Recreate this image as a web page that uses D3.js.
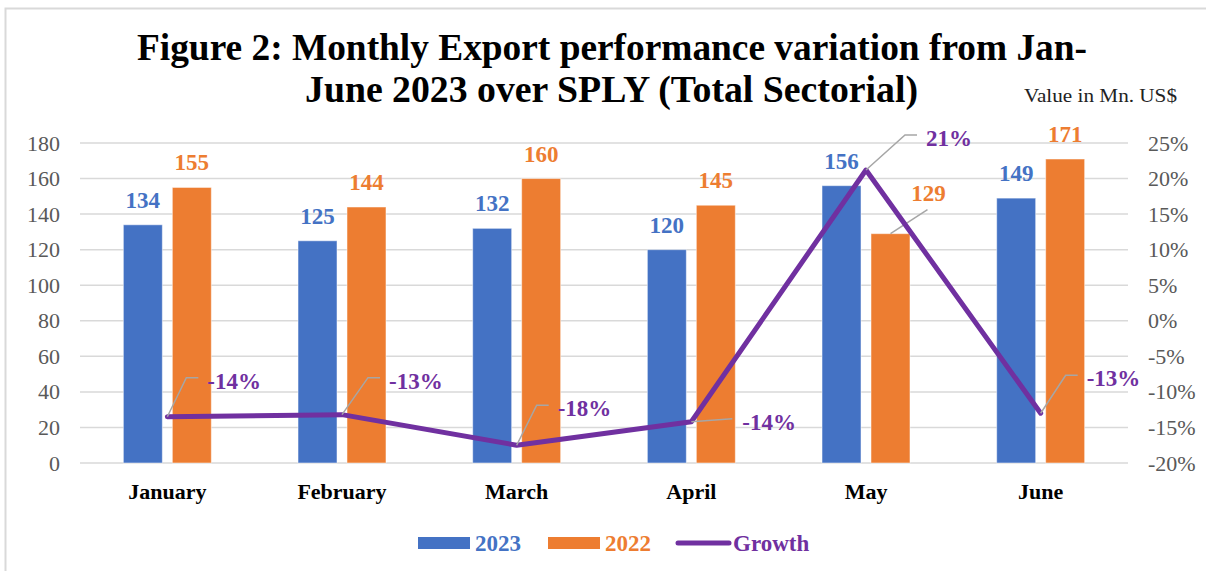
<!DOCTYPE html>
<html>
<head>
<meta charset="utf-8">
<script src="https://cdn.jsdelivr.net/npm/d3@7"></script>
<style>
  body { margin: 0; background: #fff; }
  svg text { font-family: "Liberation Serif", "Times New Roman", serif; }
</style>
</head>
<body>
<div id="chart"></div>
<script>
// data
const months = ["January", "February", "March", "April", "May", "June"];
const series = ["2023", "2022"];
const values2023 = [134, 125, 132, 120, 156, 149];
const values2022 = [155, 144, 160, 145, 129, 171];
const growth = [-13.5, -13.2, -17.5, -14.2, 21.2, -13.0]; // %
const leftTicks = [0, 20, 40, 60, 80, 100, 120, 140, 160, 180];
const rightTicks = [-20, -15, -10, -5, 0, 5, 10, 15, 20, 25];

const colors = { "2023": "#4472C4", "2022": "#ED7D31", growth: "#7030A0" };

const W = 1206, H = 571;
const plot = { left: 80, right: 1128, top: 143, bottom: 463 };

const svg = d3.select("#chart").append("svg")
    .attr("width", W)
    .attr("height", H);

svg.append("rect").attr("width", W).attr("height", H).attr("fill", "#fff");

// outer frame (cut by the page edges)
svg.append("rect")
    .attr("x", 5.5).attr("y", 8.5)
    .attr("width", W + 20).attr("height", H + 20)
    .attr("fill", "none")
    .attr("stroke", "#D9D9D9")
    .attr("stroke-width", 2);

// title
svg.append("text")
    .attr("x", 137).attr("y", 60)
    .attr("textLength", 950).attr("lengthAdjust", "spacingAndGlyphs")
    .style("font-size", "38px").style("font-weight", "bold")
    .text("Figure 2: Monthly Export performance variation from Jan-");
svg.append("text")
    .attr("x", 305).attr("y", 102)
    .attr("textLength", 613).attr("lengthAdjust", "spacingAndGlyphs")
    .style("font-size", "38px").style("font-weight", "bold")
    .text("June 2023 over SPLY (Total Sectorial)");
svg.append("text")
    .attr("x", 1024).attr("y", 102)
    .attr("textLength", 153).attr("lengthAdjust", "spacingAndGlyphs")
    .style("font-size", "18px").style("fill", "#222")
    .text("Value in Mn. US$");

// scales
const x0 = d3.scaleBand().domain(months).range([plot.left, plot.right]);
const x1 = d3.scaleBand().domain(series).range([0, x0.bandwidth()])
    .paddingInner(0.204).paddingOuter(0.885);
const yL = d3.scaleLinear().domain([0, 180]).range([plot.bottom, plot.top]);
const yR = d3.scaleLinear().domain([-20, 25]).range([plot.bottom, plot.top]);

// gridlines
svg.append("g")
    .selectAll("line")
    .data(leftTicks)
    .join("line")
    .attr("x1", plot.left).attr("x2", plot.right)
    .attr("y1", d => yL(d)).attr("y2", d => yL(d))
    .attr("stroke", "#D9D9D9").attr("stroke-width", 1.5);

// left axis
const axL = svg.append("g")
    .attr("transform", `translate(${plot.left},0)`)
    .call(d3.axisLeft(yL).tickValues(leftTicks).tickSize(0).tickPadding(20));
axL.select(".domain").remove();
axL.selectAll("text").style("font-size", "22px").style("fill", "#595959").style("font-family", null);

// right axis
const axR = svg.append("g")
    .attr("transform", `translate(${plot.right},0)`)
    .call(d3.axisRight(yR).tickValues(rightTicks).tickSize(0).tickPadding(20)
        .tickFormat(d => (d < 0 ? "-" + Math.abs(d) : d) + "%"));
axR.select(".domain").remove();
axR.selectAll("text").style("font-size", "22px").style("fill", "#595959").style("font-family", null);

// x axis labels
const axB = svg.append("g")
    .attr("transform", `translate(0,${plot.bottom})`)
    .call(d3.axisBottom(x0).tickSize(0).tickPadding(20));
axB.select(".domain").remove();
axB.selectAll("text").style("font-size", "22px").style("font-weight", "bold")
    .style("fill", "#000").style("font-family", null);

// bars
const barData = months.map((m, i) => ({ month: m, vals: [
    { key: "2023", value: values2023[i] },
    { key: "2022", value: values2022[i] }
] }));

const groups = svg.append("g").selectAll("g")
    .data(barData)
    .join("g")
    .attr("transform", d => `translate(${x0(d.month)},0)`);

groups.selectAll("rect")
    .data(d => d.vals)
    .join("rect")
    .attr("x", d => x1(d.key))
    .attr("y", d => yL(d.value))
    .attr("width", x1.bandwidth())
    .attr("height", d => yL(0) - yL(d.value))
    .attr("fill", d => colors[d.key])
    .attr("stroke", "#fff").attr("stroke-opacity", 0.5).attr("stroke-width", 1);

// bar value labels (May 2022 label is moved aside with a leader line)
groups.each(function(d) {
    const g = d3.select(this);
    d.vals.forEach(v => {
        const cx = x1(v.key) + x1.bandwidth() / 2;
        const moved = d.month === "May" && v.key === "2022";
        const lx = moved ? cx + 38 : cx;
        const ly = moved ? yL(v.value) - 33 : yL(v.value) - 17;
        if (moved) {
            g.append("line")
                .attr("x1", cx).attr("y1", yL(v.value))
                .attr("x2", cx + 37).attr("y2", yL(v.value) - 24)
                .attr("stroke", "#A6A6A6").attr("stroke-width", 1.5);
        }
        g.append("text")
            .attr("x", lx).attr("y", ly)
            .attr("text-anchor", "middle")
            .style("font-size", "23px").style("font-weight", "bold")
            .style("fill", colors[v.key])
            .text(v.value);
    });
});

// growth line
const cx = m => x0(m) + x0.bandwidth() / 2;
const line = d3.line().x((d, i) => cx(months[i])).y(d => yR(d));

svg.append("path")
    .datum(growth)
    .attr("d", line)
    .attr("fill", "none")
    .attr("stroke", colors.growth)
    .attr("stroke-width", 5)
    .attr("stroke-linejoin", "round")
    .attr("stroke-linecap", "round");

// growth labels with leader lines
const fmt = d => d3.format(".0f")(d).replace("\u2212", "-") + "%";
const labelOffset = [
    { dx: 40, dy: -36 }, { dx: 47, dy: -34 }, { dx: 41, dy: -37 },
    { dx: 51, dy: 0 }, { dx: 60, dy: -32 }, { dx: 46, dy: -35 }
];
growth.forEach((g, i) => {
    const px = cx(months[i]), py = yR(g);
    const lx = px + labelOffset[i].dx, ly = py + labelOffset[i].dy;
    let pts;
    if (months[i] === "April") {
        pts = [[px, py], [lx - 10, ly - 3]];
    } else {
        pts = [[px, py], [lx - 21, ly - 3], [lx - 9, ly - 3]];
    }
    svg.append("path")
        .attr("d", d3.line()(pts))
        .attr("fill", "none")
        .attr("stroke", "#A6A6A6")
        .attr("stroke-width", 1.5);
    svg.append("text")
        .attr("x", lx).attr("y", ly)
        .attr("dy", "0.35em")
        .style("font-size", "23px").style("font-weight", "bold")
        .style("fill", colors.growth)
        .text(fmt(g));
});

// legend
const legend = svg.append("g");
const legItems = [
    { key: "2023", x: 418 },
    { key: "2022", x: 548 },
    { key: "growth", label: "Growth", x: 676 }
];
legItems.forEach(it => {
    if (it.key === "growth") {
        legend.append("line")
            .attr("x1", it.x + 2).attr("x2", it.x + 53)
            .attr("y1", 543).attr("y2", 543)
            .attr("stroke", colors.growth).attr("stroke-width", 5)
            .attr("stroke-linecap", "round");
    } else {
        legend.append("rect")
            .attr("x", it.x).attr("y", 537)
            .attr("width", 52).attr("height", 12)
            .attr("fill", colors[it.key]);
    }
    legend.append("text")
        .attr("x", it.x + 57).attr("y", 551)
        .style("font-size", "23px").style("font-weight", "bold")
        .style("fill", colors[it.key])
        .text(it.label || it.key);
});
</script>
</body>
</html>
